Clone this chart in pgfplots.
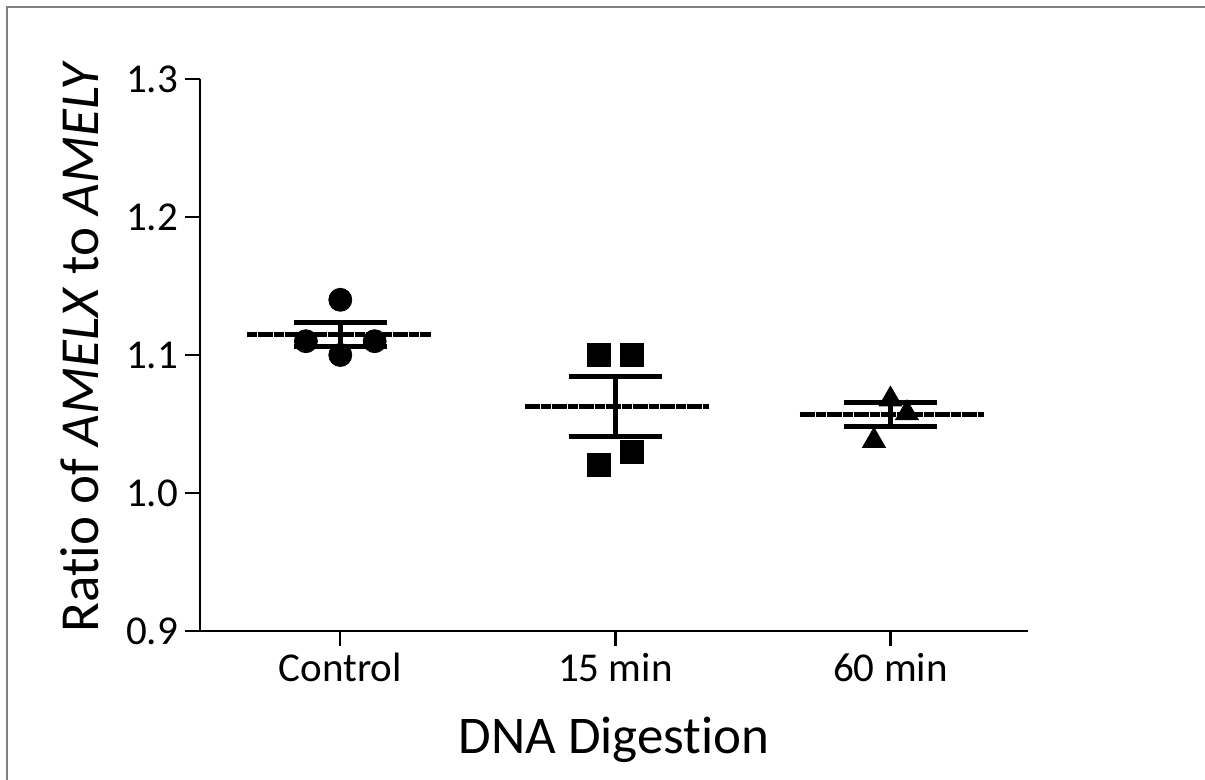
\documentclass[border=0pt]{standalone}
\usepackage{fontspec}
\setmainfont{Carlito}[Ligatures=NoCommon]
\usepackage{pgfplots}
\pgfplotsset{compat=1.18}
\begin{document}
\begin{tikzpicture}
\useasboundingbox (0,0) rectangle (602.5pt,390pt);
\draw[color=black!50, line width=1pt] (3.5pt,0pt) -- (3.5pt,386.5pt) -- (602.5pt,386.5pt);
\begin{axis}[
  at={(100pt,74.5pt)}, anchor=south west,
  scale only axis, width=414pt, height=276pt,
  xmin=-0.51, xmax=2.5, ymin=0.9, ymax=1.3,
  axis x line=bottom, axis y line=left,
  axis line style={-, line width=1.2pt, black},
  xtick={0,1,2}, xticklabels={Control,15 min,60 min},
  ytick={0.9,1.0,1.1,1.2,1.3},
  yticklabel style={/pgf/number format/fixed, /pgf/number format/fixed zerofill, /pgf/number format/precision=1},
  /pgf/number format/assume math mode=true,
  tick align=outside, major tick length=7.5pt,
  tick style={line width=1.2pt, black},
  ticklabel style={font=\fontsize{20.5}{24}\selectfont},
  xlabel={DNA Digestion},
  ylabel={Ratio of \textit{AMELX} to \textit{AMELY}},
  xlabel style={font=\fontsize{26.5}{30}\selectfont, at={(axis description cs:0.5,-0.1975)}, anchor=center},
  ylabel style={font=\fontsize{27.5}{30}\selectfont, at={(axis description cs:-0.145,0.515)}, anchor=center, rotate=0},
  clip=false,
]
% individual points
\addplot[only marks, mark=*, mark size=5.75pt, black] coordinates {(0,1.14) (-0.125,1.11) (0.125,1.11) (0,1.10)};
\addplot[only marks, mark=square*, mark size=5.75pt, black] coordinates {(0.94,1.10) (1.06,1.10) (1.06,1.03) (0.94,1.02)};
\addplot[only marks, mark=triangle*, mark size=6.6pt, black, mark options={yshift=-1.5pt}] coordinates {(2,1.07) (2.06,1.06) (1.94,1.04)};
% means
\addplot[black, line width=2.4pt, dash pattern=on 2.5pt off 0.2pt] coordinates {(-0.34,1.115) (0.33,1.115)};
\addplot[black, line width=2.4pt, dash pattern=on 2.5pt off 0.2pt] coordinates {(0.67,1.0625) (1.34,1.0625)};
\addplot[black, line width=2.4pt, dash pattern=on 2.5pt off 0.2pt] coordinates {(1.67,1.0567) (2.34,1.0567)};
% SEM bars
\addplot[black, line width=2.4pt] coordinates {(0,1.1063) (0,1.1237)};
\addplot[black, line width=2.4pt] coordinates {(-0.17,1.1237) (0.17,1.1237)};
\addplot[black, line width=2.4pt] coordinates {(-0.17,1.1063) (0.17,1.1063)};
\addplot[black, line width=2.4pt] coordinates {(1,1.0408) (1,1.0842)};
\addplot[black, line width=2.4pt] coordinates {(0.83,1.0842) (1.17,1.0842)};
\addplot[black, line width=2.4pt] coordinates {(0.83,1.0408) (1.17,1.0408)};
\addplot[black, line width=2.4pt] coordinates {(2,1.0479) (2,1.0655)};
\addplot[black, line width=2.4pt] coordinates {(1.83,1.0655) (2.17,1.0655)};
\addplot[black, line width=2.4pt] coordinates {(1.83,1.0479) (2.17,1.0479)};
\end{axis}
\end{tikzpicture}
\end{document}
